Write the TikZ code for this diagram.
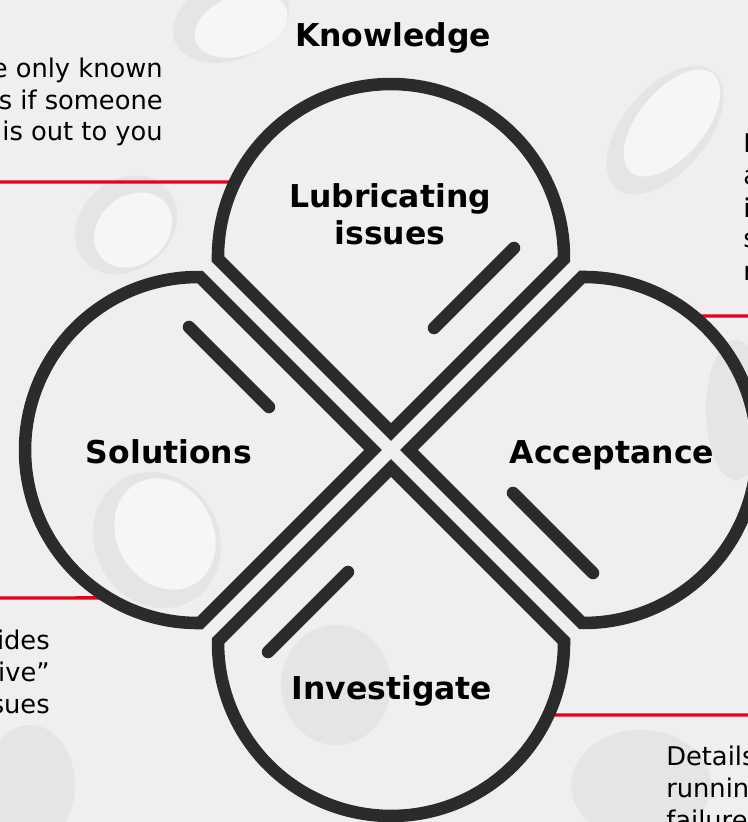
\documentclass[tikz,border=0pt]{standalone}
\usepackage{fontspec}
\setmainfont{DejaVu Sans}
\usetikzlibrary{calc}
\definecolor{petal}{HTML}{2B2B2B}
\definecolor{redline}{HTML}{E3001B}
\definecolor{bg}{HTML}{EFEFEF}
\definecolor{holerim}{HTML}{E5E5E5}
\definecolor{holein}{HTML}{F6F6F6}
\begin{document}
\begin{tikzpicture}[x=0.75pt,y=0.75pt,
  petalline/.style={draw=petal,line width=9.4pt,line join=miter},
  innerbar/.style={draw=petal,line width=9.4pt,line cap=round},
  lbl/.style={font=\bfseries\fontsize{23.6}{28}\selectfont,text=black,inner sep=0pt,anchor=base},
  body/.style={font=\fontsize{19.3}{24}\selectfont,text=black,inner sep=0pt},
  redlink/.style={draw=redline,line width=2.6pt}]
\useasboundingbox (-391,-372) rectangle (357,450);
\clip (-391,-372) rectangle (357,450);
\fill[bg] (-391,-372) rectangle (357,450);
% background holes (texture)
\begin{scope}
  \fill[holerim] (274,320) ellipse[x radius=76, y radius=42, rotate=50];
  \fill[holein] (281,327) ellipse[x radius=64, y radius=33, rotate=50];
  \fill[holerim] (-234,-90) ellipse[x radius=62, y radius=70, rotate=30];
  \fill[holein] (-226,-84) ellipse[x radius=48, y radius=58, rotate=30];
  \fill[holerim] (-160,430) ellipse[x radius=60, y radius=40, rotate=20];
  \fill[holein] (-150,425) ellipse[x radius=48, y radius=30, rotate=20];
  \fill[holerim] (-265,225) ellipse[x radius=55, y radius=45, rotate=40];
  \fill[holein] (-258,220) ellipse[x radius=42, y radius=34, rotate=40];
  \fill[holerim] (-361,-335) ellipse[x radius=45, y radius=60];
  \fill[holerim] (-55,-235) ellipse[x radius=55, y radius=60];
  \fill[holerim] (250,-335) ellipse[x radius=70, y radius=55];
  \fill[holerim] (345,40) ellipse[x radius=30, y radius=70];
\end{scope}
% red leader lines
\coordinate (tlA) at (-391,268);
\coordinate (tlB) at ($(0,193)+(154.31:173)$);
\coordinate (trA) at ($(193,0)+(50.77:173)$);
\coordinate (trB) at (357,134);
\coordinate (blA) at (-391,-148);
\coordinate (blB) at ($(-193,0)+(238.8:173)$);
\coordinate (brA) at ($(0,-193)+(-24.6:173)$);
\coordinate (brB) at (357,-265);
\draw[redlink] (tlA) -- (tlB);
\draw[redlink] (trA) -- (trB);
\draw[redlink] (blA) -- (blB);
\draw[redlink] (brA) -- (brB);
% petals
\foreach \r in {0,-90,-180,-270}{
  \begin{scope}[rotate=\r]
    \draw[petalline] (0,18) -- (-173,191) arc[start angle=180.66, end angle=-0.66, radius=173] -- cycle;
    \draw[innerbar] (43,122) -- (123,202);
  \end{scope}
}
% labels
\node[lbl] (know) at (2,403) {Knowledge};
\node[lbl] (lub1) at (-1,243) {Lubricating};
\node[lbl] (lub2) at (-1,205) {issues};
\node[lbl] (sol) at (-222,-13) {Solutions};
\node[lbl] (acc) at (221,-13) {Acceptance};
\node[lbl] (inv) at (1,-249) {Investigate};
% side texts (cropped by the picture edge, as in the reference)
\node[body,anchor=base east] (tl1) at (-228,372) {e only known};
\node[body,anchor=base east] (tl2) at (-228,340) {s if someone};
\node[body,anchor=base east] (tl3) at (-228,309) {is out to you};
\node[body,anchor=base west] (tr1) at (352,297) {E};
\node[body,anchor=base west] (tr2) at (352,265) {a};
\node[body,anchor=base west] (tr3) at (352,233) {i};
\node[body,anchor=base west] (tr4) at (352,202) {s};
\node[body,anchor=base west] (tr5) at (352,170) {r};
\node[body,anchor=base east] (bl1) at (-341,-199) {ides};
\node[body,anchor=base east] (bl2) at (-341,-231) {ive”};
\node[body,anchor=base east] (bl3) at (-341,-263) {sues};
\node[body,anchor=base west] (br1) at (275,-315) {Details};
\node[body,anchor=base west] (br2) at (275,-347) {runnin};
\node[body,anchor=base west] (br3) at (275,-379) {failure};
\end{tikzpicture}
\end{document}
